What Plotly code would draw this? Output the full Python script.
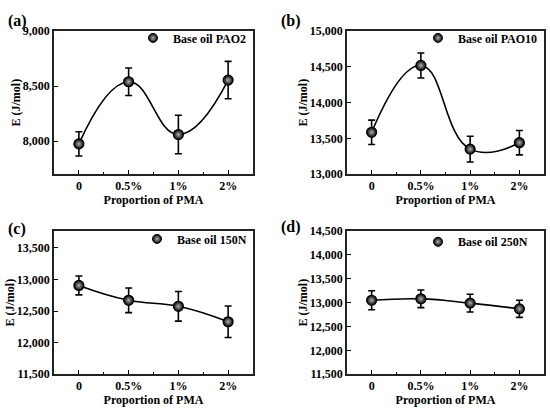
import plotly.graph_objects as go
from plotly.subplots import make_subplots

# data
proportions = ["0", "0.5%", "1%", "2%"]

pao2_e = [7975, 8540, 8060, 8555]
pao2_err = [110, 125, 175, 170]

pao10_e = [13585, 14520, 13350, 13440]
pao10_err = [170, 175, 180, 170]

n150_e = [12905, 12670, 12575, 12330]
n150_err = [150, 195, 235, 250]

n250_e = [13050, 13080, 12990, 12870]
n250_err = [200, 185, 185, 180]

panels = [
    ("(a)", "Base oil PAO2", pao2_e, pao2_err, [7700, 9000], [8000, 8500, 9000]),
    ("(b)", "Base oil PAO10", pao10_e, pao10_err, [13000, 15000],
     [13000, 13500, 14000, 14500, 15000]),
    ("(c)", "Base oil 150N", n150_e, n150_err, [11500, 13765],
     [11500, 12000, 12500, 13000, 13500]),
    ("(d)", "Base oil 250N", n250_e, n250_err, [11500, 14500],
     [11500, 12000, 12500, 13000, 13500, 14000, 14500]),
]

W, H = 550, 414
# plot boxes in pixels: left, right, top, bottom
boxes = [(54, 253, 25, 173), (347, 544, 25, 173),
         (54, 253, 232, 380), (347, 544, 232, 380)]
letter_pos = [(17, 15), (291, 15), (17, 230), (291, 228)]
legend_pos = [(252, 32), (543, 32), (252, 240), (533, 243)]

FONT = "Liberation Serif"
fig = make_subplots(rows=2, cols=2)
xs = list(range(len(proportions)))

for i, (letter, name, e, err, yr, yt) in enumerate(panels):
    row, col = i // 2 + 1, i % 2 + 1
    leg = "legend" if i == 0 else "legend%d" % (i + 1)
    fig.add_trace(go.Scatter(
        x=xs, y=e, mode="lines+markers", showlegend=False,
        line=dict(color="black", width=1.6, shape="spline", smoothing=1.3),
        marker=dict(size=10, color="black",
                    gradient=dict(type="radial", color="#b0b0b0"),
                    line=dict(color="black", width=1.2)),
        error_y=dict(type="data", array=err, color="black",
                     thickness=1.6, width=3.5)),
        row=row, col=col)
    fig.add_trace(go.Scatter(
        x=[None], y=[None], mode="markers", name=name, legend=leg,
        marker=dict(size=9, color="black",
                    gradient=dict(type="radial", color="#b0b0b0"),
                    line=dict(color="black", width=1))),
        row=row, col=col)

    l, r, t, b = boxes[i]
    xa = "xaxis" if i == 0 else "xaxis%d" % (i + 1)
    ya = "yaxis" if i == 0 else "yaxis%d" % (i + 1)
    fig.layout[xa].update(
        domain=[l / W, r / W], range=[-0.5, 3.5],
        tickmode="array", tickvals=xs, ticktext=proportions,
        ticks="inside", ticklen=4, tickwidth=1.2, tickcolor="black",
        minor=dict(tickmode="array", tickvals=[x + 0.5 for x in xs[:-1]],
                   ticks="inside", ticklen=2.5, tickwidth=1, tickcolor="black"),
        showline=True, linecolor="#222222", linewidth=1.5, mirror=True,
        showgrid=False, zeroline=False,
        tickfont=dict(family=FONT, size=12, color="black", weight="bold"),
        title=dict(text="Proportion of PMA", standoff=2,
                   font=dict(family=FONT, size=12, color="black", weight="bold")))
    fig.layout[ya].update(
        domain=[1 - b / H, 1 - t / H], range=yr,
        tickmode="array", tickvals=yt, tickformat=",d",
        ticks="inside", ticklen=4, tickwidth=1.2, tickcolor="black",
        showline=True, linecolor="#222222", linewidth=1.5, mirror=True,
        showgrid=False, zeroline=False,
        tickfont=dict(family=FONT, size=12, color="black", weight="bold"),
        title=dict(text="E (J/mol)", standoff=0,
                   font=dict(family=FONT, size=12, color="black", weight="bold")))

    lx, ly = letter_pos[i]
    fig.add_annotation(text=letter, x=lx / W, y=1 - ly / H, xref="paper",
                       yref="paper", xanchor="center", yanchor="middle",
                       showarrow=False,
                       font=dict(family=FONT, size=16, color="black",
                                 weight="bold"))
    gx, gy = legend_pos[i]
    fig.layout[leg] = dict(
        x=gx / W, y=1 - gy / H, xanchor="right", yanchor="middle",
        bgcolor="rgba(0,0,0,0)", itemwidth=30, tracegroupgap=0,
        font=dict(family=FONT, size=12, color="black", weight="bold"))

fig.update_layout(width=W, height=H, margin=dict(l=0, r=0, t=0, b=0),
                  plot_bgcolor="white", paper_bgcolor="white")

# drop the page's default body margin so the figure sits at the window origin
fig.write_html("out.html", config={"displayModeBar": False},
               post_script="document.body.style.margin='0';"
                           "document.body.style.overflow='hidden';")
